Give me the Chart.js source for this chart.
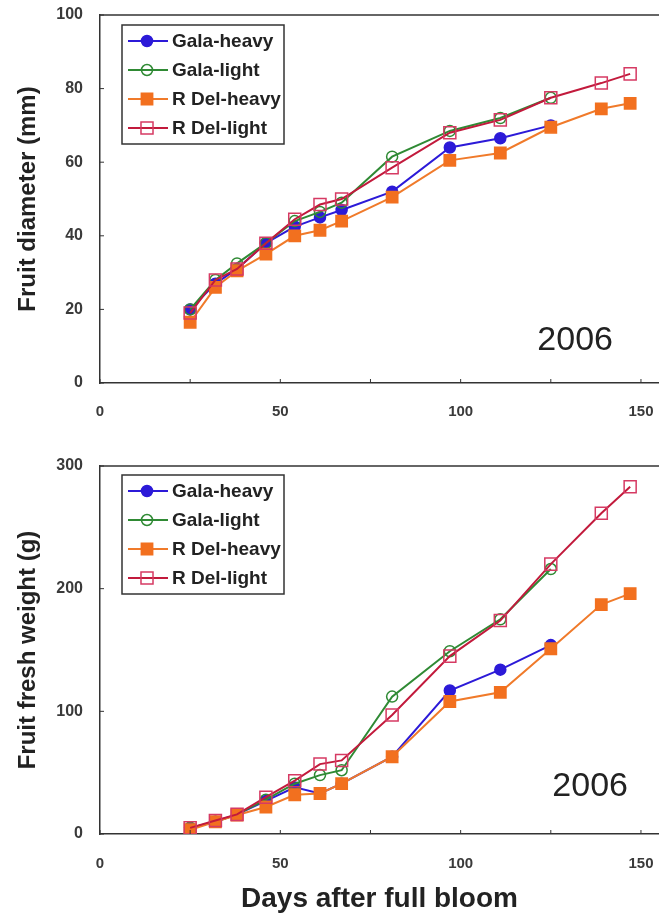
<!DOCTYPE html>
<html lang="en">
<head>
<meta charset="UTF-8">
<title>Fruit growth 2006</title>
<script src="https://cdn.jsdelivr.net/npm/chart.js"></script>
<style>
  body { margin: 0; background: #fff; }
  canvas { display: block; }
</style>
</head>
<body>
<canvas id="diameterChart" width="659" height="440"></canvas>
<canvas id="weightChart" width="659" height="477"></canvas>
<script>
// days after full bloom (Gala series stop at 125)
const days = [25, 32, 38, 46, 54, 61, 67, 81, 97, 111, 125, 139, 147];
const seriesNames = ['Gala-heavy', 'Gala-light', 'R Del-heavy', 'R Del-light'];

// fruit diameter (mm)
const galaHeavyDiameter = [20, 27, 31, 38, 42.5, 45, 47, 52, 64, 66.5, 70];
const galaLightDiameter = [20, 28, 32.5, 38, 44, 46.5, 49, 61.5, 68.5, 72, 77.5];
const rdelHeavyDiameter = [16.5, 26, 30.5, 35, 40, 41.5, 44, 50.5, 60.5, 62.5, 69.5, 74.5, 76];
const rdelLightDiameter = [19, 28, 31, 38, 44.5, 48.5, 50, 58.5, 68, 71.5, 77.5, 81.5, 84];

// fruit fresh weight (g)
const galaHeavyWeight = [5, 10, 16, 27, 38, 33, 41, 63, 117, 134, 154];
const galaLightWeight = [5, 10, 16, 28, 41, 48, 52, 112, 149, 175, 216];
const rdelHeavyWeight = [3.5, 10, 15.5, 22, 32, 33, 41, 63, 108, 115.5, 151, 187, 196];
const rdelLightWeight = [5, 11, 16, 30, 43.5, 57, 60, 97, 145, 174, 220, 261.5, 283];

const xTicks = [0, 25, 50, 75, 100, 125, 150];
const xLabelTicks = [0, 50, 100, 150];
const diameterTicks = [0, 20, 40, 60, 80, 100];
const weightTicks = [0, 100, 200, 300];
const yearLabel = '2006';

const FONT = "'Liberation Sans', Arial, sans-serif";

const seriesStyles = [
    { line: '#2c1ad8', fill: '#2c1ad8', border: '#2c1ad8', shape: 'circle', radius: 5.5 },
    { line: '#2f8a34', fill: 'rgba(255,255,255,0)', border: '#2f8a34', shape: 'circle', radius: 5.5 },
    { line: '#f07a2a', fill: '#f2701f', border: '#f2701f', shape: 'rect', radius: 8 },
    { line: '#c21a3c', fill: 'rgba(255,255,255,0)', border: '#d63a63', shape: 'rect', radius: 8.5 }
];

function makeDatasets(seriesValues) {
    return seriesValues.map((values, i) => {
        const s = seriesStyles[i];
        return {
            label: seriesNames[i],
            data: values.map((v, j) => ({ x: days[j], y: v })),
            borderColor: s.line,
            borderWidth: 2,
            pointStyle: s.shape,
            pointRadius: s.radius,
            pointBackgroundColor: s.fill,
            pointBorderColor: s.border,
            pointBorderWidth: 1.5,
            tension: 0,
            order: 4 - i
        };
    });
}

// drop the extra padding Chart.js reserves for edge labels
function noPadding(scale) {
    scale.paddingLeft = 0;
    scale.paddingRight = 0;
    scale.paddingTop = 0;
    scale.paddingBottom = 0;
}

// border, inward ticks, boxed legend and the year label
const decorPlugin = {
    id: 'decor',
    afterDraw(chart, args, opts) {
        const ctx = chart.ctx;
        const area = chart.chartArea;
        const x = chart.scales.x, y = chart.scales.y;
        ctx.save();
        ctx.strokeStyle = '#333';
        ctx.lineWidth = 1.5;
        ctx.beginPath();
        ctx.moveTo(area.left, area.top);
        ctx.lineTo(area.right, area.top);
        ctx.stroke();

        ctx.lineWidth = 1;
        ctx.beginPath();
        xTicks.forEach(v => {
            const px = x.getPixelForValue(v);
            ctx.moveTo(px, area.bottom);
            ctx.lineTo(px, area.bottom - 4);
        });
        opts.yTicks.forEach(v => {
            const py = y.getPixelForValue(v);
            ctx.moveTo(area.left, py);
            ctx.lineTo(area.left + 4, py);
        });
        ctx.stroke();

        // legend box
        const bx = area.left + 22, by = area.top + opts.legendTop;
        ctx.fillStyle = '#fff';
        ctx.fillRect(bx, by, 162, 119);
        ctx.strokeStyle = '#333';
        ctx.lineWidth = 1.5;
        ctx.strokeRect(bx, by, 162, 119);
        chart.data.datasets.forEach((ds, i) => {
            const s = seriesStyles[i];
            const ly = by + 16 + i * 29;
            ctx.strokeStyle = s.line;
            ctx.lineWidth = 2;
            ctx.beginPath();
            ctx.moveTo(bx + 6, ly);
            ctx.lineTo(bx + 46, ly);
            ctx.stroke();
            ctx.fillStyle = s.fill;
            ctx.strokeStyle = s.border;
            ctx.lineWidth = 1.5;
            Chart.helpers.drawPoint(ctx, { pointStyle: s.shape, radius: s.radius, rotation: 0, borderWidth: 1.5 }, bx + 25, ly);
            ctx.fillStyle = '#222';
            ctx.font = 'bold 19px ' + FONT;
            ctx.textBaseline = 'middle';
            ctx.textAlign = 'left';
            ctx.fillText(ds.label, bx + 50, ly + 1);
        });

        ctx.fillStyle = '#222';
        ctx.font = '34px ' + FONT;
        ctx.textAlign = 'right';
        ctx.textBaseline = 'middle';
        ctx.fillText(yearLabel, area.left + opts.yearRight, area.top + opts.yearMid);
        ctx.restore();
    }
};

function makeChart(canvasId, seriesValues, yMax, yTicks, yTitle, opts) {
    return new Chart(document.getElementById(canvasId), {
        type: 'line',
        data: { datasets: makeDatasets(seriesValues) },
        plugins: [decorPlugin],
        options: {
            responsive: false,
            animation: false,
            events: [],
            layout: { autoPadding: false, padding: { top: opts.padTop, right: 0, bottom: 0, left: 0 } },
            plugins: {
                legend: { display: false },
                tooltip: { enabled: false },
                decor: { yTicks: yTicks, legendTop: opts.legendTop, yearRight: opts.yearRight, yearMid: opts.yearMid }
            },
            scales: {
                x: {
                    type: 'linear',
                    min: 0,
                    max: 155,
                    afterBuildTicks: scale => { scale.ticks = xTicks.map(v => ({ value: v })); },
                    afterFit: scale => { scale.height = opts.xHeight; noPadding(scale); },
                    grid: { display: false, drawTicks: false },
                    border: { display: true, color: '#333', width: 1.5 },
                    ticks: {
                        padding: opts.xPad,
                        maxRotation: 0,
                        autoSkip: false,
                        color: '#3a3a3a',
                        font: { family: FONT, size: 15, weight: 'bold' },
                        callback: v => xLabelTicks.includes(v) ? String(v) : ''
                    },
                    title: opts.xTitle ? {
                        display: true,
                        text: opts.xTitle,
                        color: '#222',
                        font: { family: FONT, size: 28, weight: 'bold' },
                        padding: { top: 0, bottom: 1 }
                    } : { display: false }
                },
                y: {
                    min: 0,
                    max: yMax,
                    afterBuildTicks: scale => { scale.ticks = yTicks.map(v => ({ value: v })); },
                    afterFit: scale => { scale.width = 100; noPadding(scale); },
                    grid: { display: false, drawTicks: false },
                    border: { display: true, color: '#333', width: 1.5 },
                    ticks: {
                        padding: 17,
                        color: '#3a3a3a',
                        font: { family: FONT, size: 16, weight: 'bold' }
                    },
                    title: {
                        display: true,
                        text: yTitle,
                        color: '#222',
                        font: { family: FONT, size: 24, weight: 'bold' },
                        padding: { top: 14, bottom: 0 }
                    }
                }
            }
        }
    });
}

makeChart('diameterChart',
    [galaHeavyDiameter, galaLightDiameter, rdelHeavyDiameter, rdelLightDiameter],
    100, diameterTicks, 'Fruit diameter (mm)',
    { padTop: 15, xHeight: 57, xPad: 20, legendTop: 10, yearRight: 513, yearMid: 326 });

makeChart('weightChart',
    [galaHeavyWeight, galaLightWeight, rdelHeavyWeight, rdelLightWeight],
    300, weightTicks, 'Fruit fresh weight (g)',
    { padTop: 26, xHeight: 83, xPad: 21, legendTop: 9, yearRight: 528, yearMid: 321, xTitle: 'Days after full bloom' });
</script>
</body>
</html>
